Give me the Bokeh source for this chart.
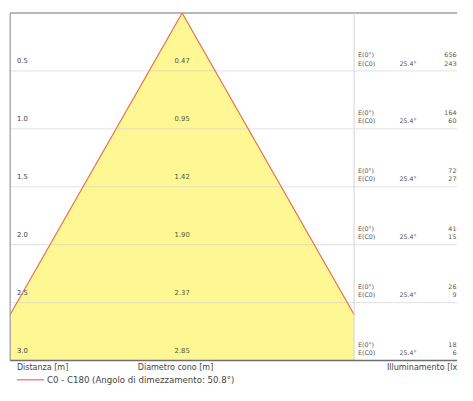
import numpy as np
from bokeh.plotting import figure
from bokeh.models import Range1d, ColumnDataSource
from bokeh.core.properties import value
from bokeh.embed import file_html
from bokeh.resources import INLINE

# ---- data ----
distances = [0.5, 1.0, 1.5, 2.0, 2.5, 3.0]
distance_labels = ["0.5", "1.0", "1.5", "2.0", "2.5", "3.0"]
diameters = ["0.47", "0.95", "1.42", "1.90", "2.37", "2.85"]
half_angles = ["25.4°", "25.4°", "25.4°", "25.4°", "25.4°", "25.4°"]
e_axis = ["6560", "1640", "729", "410", "262", "182"]
e_c0 = ["2430", "608", "270", "152", "97", "68"]
half_angle_deg = 25.4
legend_text = "C0 - C180 (Angolo di dimezzamento: 50.8°)"

FONT = value("DejaVu Sans")

W, H = 457, 385
p = figure(width=W, height=H, output_backend="svg", toolbar_location=None,
           x_range=Range1d(-1.3056, 1.9792), y_range=Range1d(3.2154, -0.1077),
           min_border=0, min_border_left=0, min_border_right=0,
           min_border_top=0, min_border_bottom=0)
p.axis.visible = False
p.xgrid.visible = False
p.ygrid.visible = False
p.outline_line_color = None
p.background_fill_color = "white"
p.border_fill_color = "white"

panel_half = 1.236
dmax = distances[-1]
t = np.tan(np.radians(half_angle_deg))
d_clip = panel_half / t
xr = 2.1

# cone fill
cx = [0, -panel_half, -panel_half, panel_half, panel_half]
cy = [0, d_clip, dmax, dmax, d_clip]
p.patch(cx, cy, fill_color="#fff694", line_color=None)

# grid lines
for d in distances[:-1]:
    p.line([-panel_half, xr], [d, d], line_color="#cfcfcf", line_width=1, line_alpha=0.6)

# cone edges
p.line([-panel_half, 0, panel_half], [d_clip, 0, d_clip], line_color="#e8704c", line_width=1.2)

# borders
p.line([-panel_half, xr], [0, 0], line_color="#a0a0a0", line_width=1.6)
p.line([-panel_half, -panel_half], [0, dmax], line_color="#9a9a9a", line_width=1.2)
p.line([panel_half, panel_half], [0, dmax], line_color="#d4d4d4", line_width=1)
p.line([-panel_half, xr], [dmax, dmax], line_color="#6e6e6e", line_width=1.4)

src = ColumnDataSource(dict(
    d=distances, dl=distance_labels, diam=diameters, ha=half_angles,
    e0=e_axis, ec=e_c0,
    ylab=[d - 0.09 for d in distances],
    y1=[d - 0.14 for d in distances],
    y2=[d - 0.068 for d in distances],
    e0lab=["E(0°)"] * len(distances),
    eclab=["E(C0)"] * len(distances),
))

common = dict(text_font=FONT, text_baseline="middle")
p.text(x=-1.1875, y="ylab", text="dl", source=src, text_color="#444444",
       text_font_size="6.8px", **common)
p.text(x=0, y="ylab", text="diam", source=src, text_color="#58582c",
       text_font_size="6.8px", text_align="center", **common)
p.text(x=1.264, y="y1", text="e0lab", source=src, text_color="#555555",
       text_font_size="6.3px", **common)
p.text(x=1.264, y="y2", text="eclab", source=src, text_color="#555555",
       text_font_size="6.3px", **common)
p.text(x=1.563, y="y2", text="ha", source=src, text_color="#555555",
       text_font_size="6.3px", **common)
p.text(x=2.0, y="y1", text="e0", source=src, text_color="#555555",
       text_font_size="6.3px", text_align="right", **common)
p.text(x=2.0, y="y2", text="ec", source=src, text_color="#555555",
       text_font_size="6.3px", text_align="right", **common)

# bottom captions
yb = 3.058
p.text(x=[-1.1875], y=[yb], text=["Distanza [m]"], text_color="#444444",
       text_font_size="8px", **common)
p.text(x=[-0.319], y=[yb], text=["Diametro cono [m]"], text_color="#444444",
       text_font_size="8px", **common)
p.text(x=[1.472], y=[yb], text=["Illuminamento [lx]"], text_color="#444444",
       text_font_size="8px", **common)

yl = 3.166
p.line([-1.1875, -0.993], [yl, yl], line_color="#f08a8a", line_width=1.5)
p.text(x=[-0.972], y=[yl], text=[legend_text], text_color="#444444",
       text_font_size="8.6px", **common)

open("out.html", "w").write(file_html(p, INLINE))
